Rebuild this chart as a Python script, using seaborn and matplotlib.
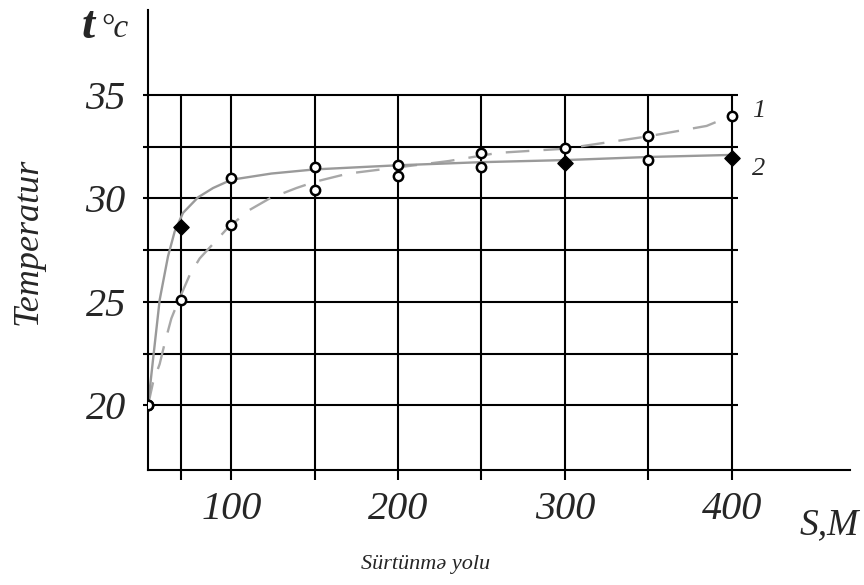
'''
Temperature vs friction path (two tests) - seaborn remake
'''
import numpy as np
import pandas as pd
import matplotlib
matplotlib.use('Agg')
import matplotlib.pyplot as plt
import seaborn as sns

# measured points (S, m ; t, C)
s_pts = [50, 70, 100, 150, 200, 250, 300, 350, 400]
t_pts1 = [20.0, 25.1, 28.7, 30.4, 31.1, 32.2, 32.45, 33.0, 34.0]
t_pts2 = [20.0, 28.6, 31.0, 31.5, 31.6, 31.5, 31.7, 31.85, 31.95]

# fitted curves
s_curve1 = [50, 53, 57, 60, 64, 68, 75, 81, 89, 97, 110, 123, 139, 150, 170, 200,
            230, 260, 300, 325, 350, 385, 400]
t_curve1 = [20.0, 21.1, 22.0, 23.0, 24.2, 25.0, 26.3, 27.1, 27.8, 28.5, 29.4, 30.0,
            30.5, 30.8, 31.2, 31.5, 31.8, 32.2, 32.4, 32.7, 33.0, 33.5, 34.0]
s_curve2 = [50, 53, 57, 62, 66, 71, 80, 89, 100, 124, 150, 200, 250, 300, 350, 400]
t_curve2 = [20.0, 22.2, 25.1, 27.2, 28.4, 29.3, 30.05, 30.5, 30.9, 31.2, 31.4,
            31.6, 31.75, 31.85, 32.0, 32.1]

x_ticks = [100, 200, 300, 400]
y_ticks = [20, 25, 30, 35]
x_grid = [70, 100, 150, 200, 250, 300, 350, 400]
y_grid = [20, 22.5, 25, 27.5, 30, 32.5, 35]
curve_names = ['1', '2']

# which points of curve 2 are drawn as filled diamonds
filled2 = [False, True, False, False, False, False, True, False, True]

sns.set_style('white')
plt.rcParams['font.family'] = ['Liberation Serif', 'DejaVu Serif']

fig = plt.figure(figsize=(8.64, 5.85), dpi=100)
ax = fig.add_axes([148 / 864, 115 / 585, 702 / 864, 460 / 585])
ax.set_xlim(50, 471)
ax.set_ylim(16.88, 39.1)

# grid drawn by hand, it stops short of the axis ends
ax.hlines(y_grid, 47, 404, color='black', lw=1.5, zorder=1, clip_on=False)
ax.vlines(x_grid, 16.4, 35, color='black', lw=1.5, zorder=1, clip_on=False)

sns.lineplot(x=s_curve1, y=t_curve1, ax=ax, color='#a8a8a8', lw=1.7,
             linestyle=(0, (10, 6)), zorder=2)
sns.lineplot(x=s_curve2, y=t_curve2, ax=ax, color='#9a9a9a', lw=1.7, zorder=2)

pts = pd.DataFrame({'s': s_pts, 't1': t_pts1, 't2': t_pts2, 'filled': filled2})
sns.scatterplot(data=pts, x='s', y='t1', ax=ax, marker='o', s=45,
                facecolor='white', edgecolor='black', linewidth=1.8, zorder=3)
sns.scatterplot(data=pts[~pts['filled']], x='s', y='t2', ax=ax, marker='o', s=45,
                facecolor='white', edgecolor='black', linewidth=1.8, zorder=3)
sns.scatterplot(data=pts[pts['filled']], x='s', y='t2', ax=ax, marker='D', s=60,
                color='black', edgecolor='black', linewidth=1, zorder=4)

ax.text(416, 34.2, curve_names[0], fontsize=19, style='italic', ha='center', va='center')
ax.text(416, 31.4, curve_names[1], fontsize=19, style='italic', ha='center', va='center')

ax.set_xticks(x_ticks)
ax.set_yticks(y_ticks)
ax.set_xticklabels([str(v) for v in x_ticks])
ax.set_yticklabels([str(v) for v in y_ticks])
ax.tick_params(axis='x', length=0, labelsize=29, pad=15)
ax.tick_params(axis='y', length=0, labelsize=29, pad=16)
for lbl in ax.get_xticklabels() + ax.get_yticklabels():
    lbl.set_style('italic')
ax.set_xlabel('')
ax.set_ylabel('')

sns.despine(ax=ax)
for side in ['left', 'bottom']:
    ax.spines[side].set_color('black')
    ax.spines[side].set_linewidth(1.5)

fig.text(82 / 864, 1 - 38 / 585, 't', fontsize=34, weight='bold', style='italic',
         ha='left', va='baseline')
fig.text(100 / 864, 1 - 37 / 585, '°c', fontsize=24, style='italic',
         ha='left', va='baseline')
fig.text(28 / 864, 1 - 241 / 585, 'Temperatur', fontsize=26, style='italic',
         rotation=90, ha='center', va='center')
fig.text(426 / 864, 1 - 565 / 585, 'Sürtünmə yolu', fontsize=16, style='italic',
         ha='center', va='center')
fig.text(829 / 864, 1 - 525 / 585, 'S,M', fontsize=27, style='italic',
         ha='center', va='center')

plt.savefig('out.png', dpi=100)
